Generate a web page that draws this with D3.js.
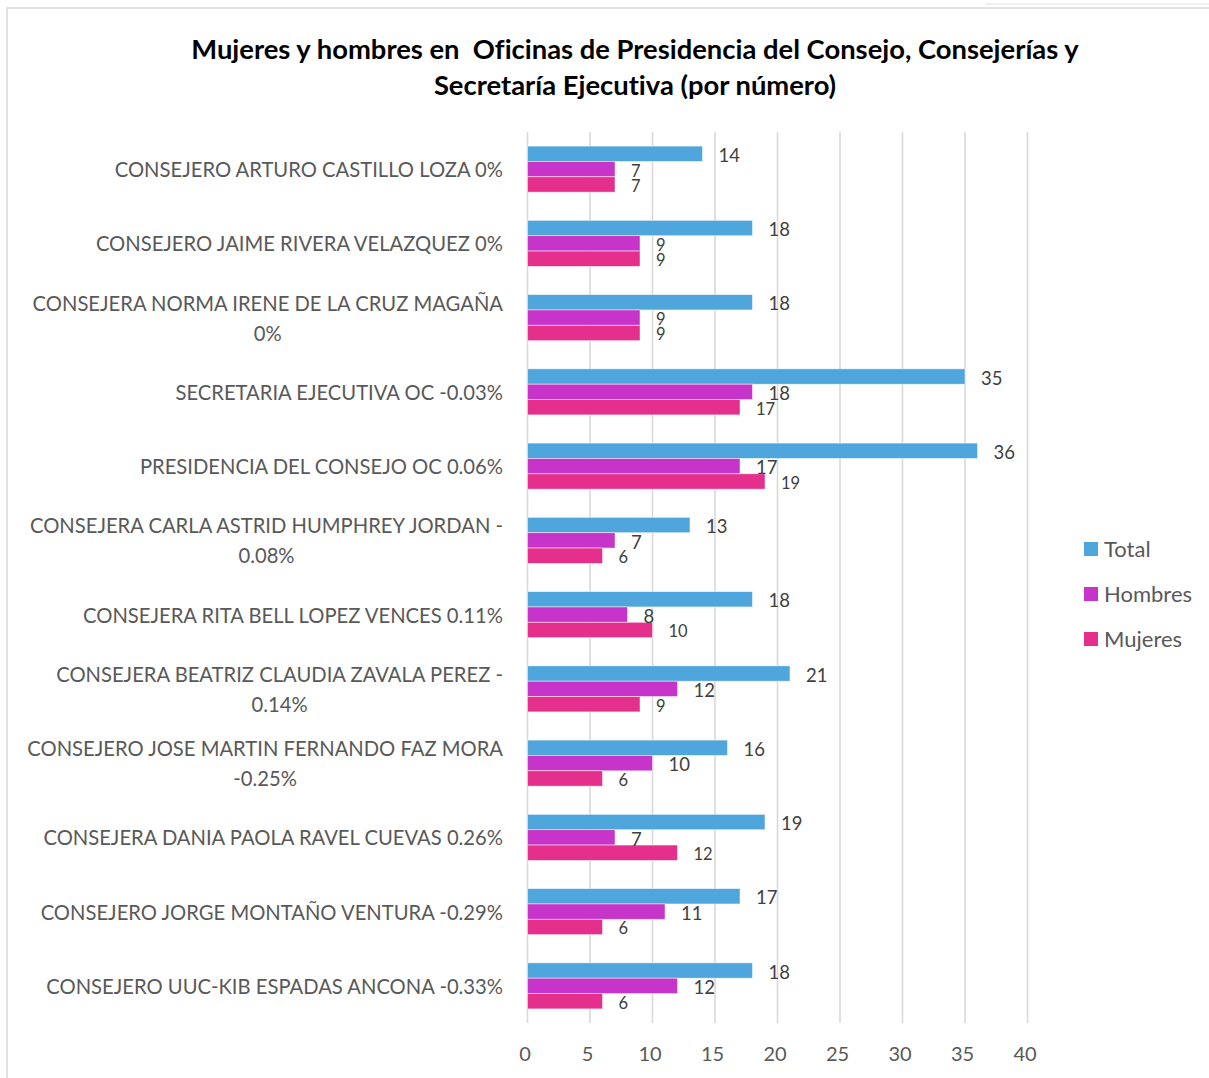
<!DOCTYPE html>
<html><head><meta charset="utf-8">
<script src="https://cdn.jsdelivr.net/npm/d3@7"></script>
<style>body{margin:0;background:#fff}svg{display:block}text{font-variant-ligatures:none;font-feature-settings:"liga" 0,"clig" 0;white-space:pre}</style>
</head><body>
<script>
const titleLines = ["Mujeres y hombres en  Oficinas de Presidencia del Consejo, Consejerías y", "Secretaría Ejecutiva (por número)"];
const categories = [
  "CONSEJERO ARTURO CASTILLO LOZA 0%",
  "CONSEJERO JAIME RIVERA VELAZQUEZ 0%",
  "CONSEJERA NORMA IRENE DE LA CRUZ MAGAÑA\n0%",
  "SECRETARIA EJECUTIVA OC -0.03%",
  "PRESIDENCIA DEL CONSEJO OC 0.06%",
  "CONSEJERA CARLA ASTRID HUMPHREY JORDAN -\n0.08%",
  "CONSEJERA RITA BELL LOPEZ VENCES 0.11%",
  "CONSEJERA BEATRIZ CLAUDIA ZAVALA PEREZ -\n0.14%",
  "CONSEJERO JOSE MARTIN FERNANDO FAZ MORA\n-0.25%",
  "CONSEJERA DANIA PAOLA RAVEL CUEVAS 0.26%",
  "CONSEJERO JORGE MONTAÑO VENTURA -0.29%",
  "CONSEJERO UUC-KIB ESPADAS ANCONA -0.33%"
];
const totalValues   = [14, 18, 18, 35, 36, 13, 18, 21, 16, 19, 17, 18];
const hombresValues = [7, 9, 9, 18, 17, 7, 8, 12, 10, 7, 11, 12];
const mujeresValues = [7, 9, 9, 17, 19, 6, 10, 9, 6, 12, 6, 6];
const seriesNames = ["Total", "Hombres", "Mujeres"];
const xTicks = [0, 5, 10, 15, 20, 25, 30, 35, 40];

const W = 1209, H = 1078;
const FONT = "Lato, 'Open Sans', sans-serif";
const colors = {Total: "#4FA6DC", Hombres: "#C634C9", Mujeres: "#E42F8C"};
const seriesValues = {Total: totalValues, Hombres: hombresValues, Mujeres: mujeresValues};

const svg = d3.select("body").append("svg").attr("width", W).attr("height", H);

// measuring helper
const meas = svg.append("text").attr("font-family", FONT).attr("x", -9999).attr("y", -9999);
function textWidth(t, size, weight) {
  meas.attr("font-size", size).attr("font-weight", weight || "normal").text(t);
  return meas.node().getComputedTextLength();
}
function fitSize(t, target, weight) {
  return 100 * target / textWidth(t, 100, weight);
}

// frame
svg.append("rect").attr("x", 7).attr("y", 8).attr("width", W + 20).attr("height", H + 20)
  .attr("fill", "#fff").attr("stroke", "#d9d9d9").attr("stroke-width", 1.5);
svg.append("line").attr("x1", 985).attr("x2", W).attr("y1", 4).attr("y2", 4)
  .attr("stroke", "#ececec").attr("stroke-width", 1.5);

// title
const titleSize = fitSize(titleLines[0], 888, "bold");
svg.append("g").selectAll("text").data(titleLines).join("text")
  .attr("x", 635).attr("y", (d, i) => 59 + i * 36)
  .attr("text-anchor", "middle").attr("font-family", FONT).attr("font-weight", "bold")
  .attr("font-size", titleSize).attr("fill", "#000").text(d => d);

// scales
const x = d3.scaleLinear().domain([0, 40]).range([527.5, 1027.5]);
const y = d3.scaleBand().domain(d3.range(categories.length)).range([132, 1023])
  .paddingInner(0.38).paddingOuter(0.19);
const ySub = d3.scaleBand().domain(seriesNames).range([0, y.bandwidth()]);

// gridlines
svg.append("g").selectAll("line").data(xTicks).join("line")
  .attr("x1", d => x(d)).attr("x2", d => x(d)).attr("y1", 132).attr("y2", 1023)
  .attr("stroke", "#d9d9d9").attr("stroke-width", 1.6);

// x axis labels
const xAxis = d3.axisBottom(x).tickValues(xTicks).tickSize(0).tickPadding(0);
const gx = svg.append("g").attr("transform", "translate(-3,1023)").call(xAxis);
gx.select(".domain").remove();
gx.selectAll("text").attr("font-family", FONT).attr("font-size", 20).attr("fill", "#595959")
  .attr("dy", null).attr("y", 38);

// category labels
const labelLines = categories.map(c => c.split("\n"));
const longestText = labelLines.flat().reduce((a, b) => textWidth(b, 100) > textWidth(a, 100) ? b : a);
const catSize = fitSize(longestText, 476);
const rightEdge = 503;
const catG = svg.append("g");
labelLines.forEach((lines, i) => {
  const cy = y(i) + y.bandwidth() / 2 + 1;
  const lh = 30;
  if (lines.length === 1) {
    catG.append("text").attr("x", rightEdge).attr("y", cy).attr("dy", "0.35em")
      .attr("text-anchor", "end").attr("font-family", FONT).attr("font-size", catSize)
      .attr("fill", "#595959").text(lines[0]);
  } else {
    const maxW = d3.max(lines, l => textWidth(l, catSize));
    const cx = rightEdge - maxW / 2;
    lines.forEach((l, j) => {
      catG.append("text").attr("x", cx).attr("y", cy + (j - (lines.length - 1) / 2) * lh)
        .attr("dy", "0.35em").attr("text-anchor", "middle").attr("font-family", FONT)
        .attr("font-size", catSize).attr("fill", "#595959").text(l);
    });
  }
});

// bars
const rows = [];
categories.forEach((c, i) => seriesNames.forEach(s => rows.push({i, s, v: seriesValues[s][i]})));
svg.append("g").selectAll("rect").data(rows).join("rect")
  .attr("x", x(0)).attr("y", d => y(d.i) + ySub(d.s))
  .attr("width", d => x(d.v) - x(0)).attr("height", ySub.bandwidth())
  .attr("fill", d => colors[d.s]).attr("stroke", "rgba(255,255,255,0.6)").attr("stroke-width", 0.8);

// value labels
function labelSize(d) {
  if (d.s === "Total") return 18.5;
  if (d.s === "Hombres") return d.i < 3 ? 16.5 : 18.5;
  return 16.5;
}
svg.append("g").selectAll("text").data(rows).join("text")
  .attr("x", d => x(d.v) + 16).attr("y", d => y(d.i) + ySub(d.s) + ySub.bandwidth() / 2 + 1.5)
  .attr("dy", "0.36em").attr("font-family", FONT).attr("font-size", labelSize)
  .attr("fill", "#404040").text(d => d.v);

// legend
const lg = svg.append("g").selectAll("g").data(seriesNames).join("g")
  .attr("transform", (d, i) => `translate(1084,${549 + i * 45})`);
lg.append("rect").attr("x", 0).attr("y", -7).attr("width", 14).attr("height", 14).attr("fill", d => colors[d]);
lg.append("text").attr("x", 20).attr("y", 0).attr("dy", "0.35em").attr("font-family", FONT)
  .attr("font-size", 22).attr("fill", "#595959").text(d => d);

meas.remove();
</script>
</body></html>
